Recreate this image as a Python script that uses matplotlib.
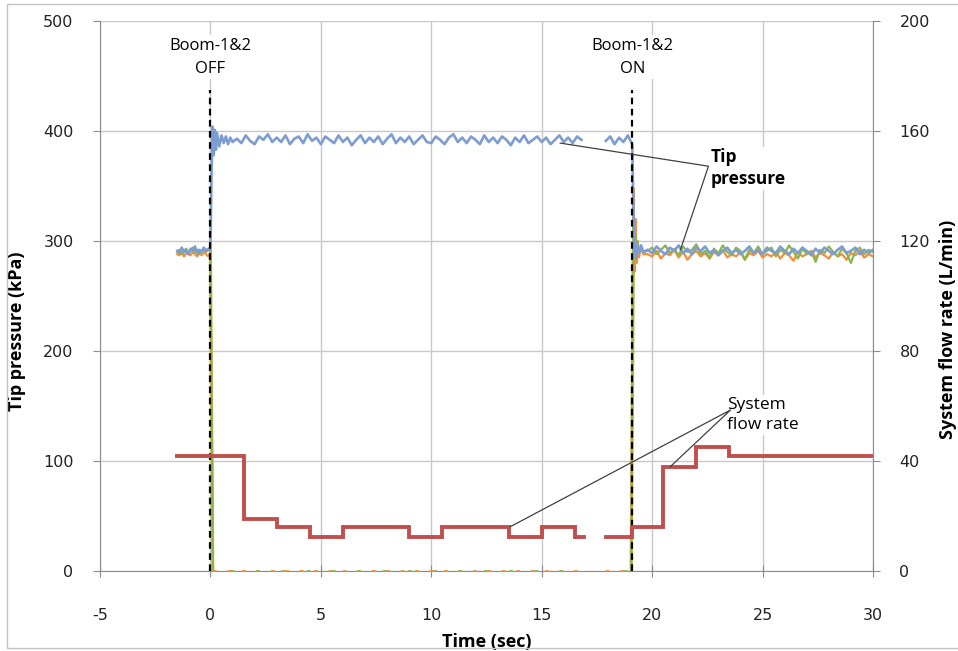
import numpy as np
import matplotlib
matplotlib.use('Agg')
import matplotlib.pyplot as plt

# ---- data ----
# before the booms switch off (t = -1.5 .. 0 s, step 0.1)
t_pre = np.round(np.arange(-15, 1) * 0.1, 2)
blue_pre = [291, 289, 294, 290, 292, 288, 293, 291, 295, 289, 292, 290, 294, 291, 293, 292]
orange_pre = [288, 287, 290, 286, 289, 288, 287, 290, 288, 286, 289, 287, 290, 288, 286, 289]
green_pre = [290, 292, 288, 291, 293, 289, 291, 294, 290, 292, 288, 291, 293, 290, 292, 291]

# blue tip pressure while booms are off
t_blue_jump = [0.0, 0.05, 0.1, 0.15, 0.2, 0.25, 0.3, 0.4, 0.5, 0.6, 0.7, 0.8, 0.9, 1.0]
blue_jump = [292, 360, 404, 378, 401, 383, 398, 386, 396, 389, 395, 388, 394, 390]
t_blue_hold = np.round(np.arange(6, 85) * 0.2, 2)
blue_hold = [393, 389, 396, 391, 388, 395, 392, 397, 390, 394,
             390, 396, 388, 393, 395, 389, 397, 391, 394, 388,
             395, 392, 389, 396, 390, 394, 387, 392, 396, 389,
             394, 390, 395, 388, 393, 397, 389, 394, 390, 395,
             388, 392, 396, 390, 389, 395, 392, 388, 394, 397,
             390, 394, 389, 395, 392, 388, 396, 390, 394, 389,
             395, 392, 387, 394, 390, 396, 389, 392, 395, 390,
             394, 388, 392, 396, 390, 394, 389, 395, 392]
t_blue_late = [17.9, 18.1, 18.3, 18.5, 18.7, 18.9, 19.0, 19.1, 19.15, 19.2, 19.25, 19.3, 19.4, 19.5, 19.6]
blue_late = [391, 395, 388, 394, 390, 396, 392, 388, 330, 300, 285, 298, 289, 296, 290]

# drop to zero at boom off, zero while off
t_drop = [0.0, 0.12]
orange_drop = [289, 0]
green_drop = [291, 0]
t_zero_a = [0.12, 16.9]
t_zero_b = [17.9, 19.05]
zero_a = [0, 0]
zero_b = [0, 0]

# after the booms switch back on
t_on = [19.05, 19.1, 19.15, 19.2, 19.25, 19.3, 19.35, 19.4, 19.5, 19.6]
orange_on = [0, 200, 348, 272, 320, 280, 300, 285, 295, 288]
green_on = [0, 150, 320, 283, 305, 288, 298, 289, 294, 290]
t_post = np.round(np.arange(99, 151) * 0.2, 2)
blue_post = [292, 289, 295, 291, 288, 294, 291, 296, 289, 293,
             288, 294, 291, 295, 289, 292, 287, 291, 294, 289,
             292, 288, 291, 295, 289, 292, 288, 294, 291, 289,
             295, 291, 288, 293, 289, 294, 291, 287, 293, 289,
             294, 291, 288, 292, 295, 289, 291, 294, 288, 292,
             289, 292]
orange_post = [288, 286, 291, 284, 289, 287, 292, 285, 290, 283,
               288, 291, 286, 289, 284, 290, 287, 292, 285, 288,
               286, 290, 283, 289, 287, 291, 285, 288, 286, 290,
               284, 289, 287, 282, 290, 286, 288, 291, 285, 289,
               287, 284, 290, 286, 288, 283, 289, 287, 291, 285,
               288, 286]
green_post = [291, 294, 288, 292, 296, 289, 293, 287, 295, 290,
              292, 297, 288, 291, 285, 293, 289, 296, 290, 287,
              294, 291, 283, 292, 289, 295, 288, 291, 294, 286,
              292, 289, 296, 290, 284, 293, 288, 291, 281, 292,
              289, 295, 290, 286, 293, 289, 280, 291, 294, 288,
              292, 290]

# yellow trace, only visible on the switching edges
t_yellow_off = [0.0, 0.1]
t_yellow_on = [19.05, 19.15]
yellow_off = [290, 0]
yellow_on = [0, 290]

# system flow rate (L/min), stepwise
flow_t1 = [-1.5, 1.5, 3.0, 4.5, 6.0, 9.0, 10.5, 13.5, 15.0, 16.5, 16.9]
flow_v1 = [42, 19, 16, 12.5, 16, 12.5, 16, 12.5, 16, 12.5, 12.5]
flow_t2 = [17.9, 19.1, 20.5, 22.0, 23.5, 30.0]
flow_v2 = [12.5, 16, 38, 45, 42, 42]

switch_times = [0.0, 19.1]
switch_labels = ['Boom-1&2\nOFF', 'Boom-1&2\nON']

# ---- colours ----
c_blue = '#7d9dd2'
c_orange = '#f38d3c'
c_green = '#8db44e'
c_yellow = '#c9c25a'
c_red = '#c0504d'
c_grid = '#c8c8c8'
c_axis = '#8c8c8c'

plt.rcParams['font.family'] = ['DejaVu Sans']
plt.rcParams['axes.unicode_minus'] = False

fig = plt.figure(figsize=(9.58, 6.51), dpi=100)
ax = fig.add_axes([100 / 958, 1 - 571 / 651, 773 / 958, 550 / 651])
ax2 = ax.twinx()

# pressure traces
ax.plot(t_yellow_off, yellow_off, color=c_yellow, lw=2.4, zorder=2)
ax.plot(t_yellow_on, yellow_on, color=c_yellow, lw=2.4, zorder=2)
ax.plot(t_pre, orange_pre, color=c_orange, lw=1.6, zorder=3)
ax.plot(t_drop, orange_drop, color=c_orange, lw=1.5, zorder=3)
ax.plot(t_pre, green_pre, color=c_green, lw=1.6, zorder=3)
ax.plot(t_drop, green_drop, color=c_green, lw=1.5, zorder=3)
for tz, zz in [(t_zero_a, zero_a), (t_zero_b, zero_b)]:
    ax.plot(tz, zz, color=c_orange, lw=1.3, ls=(0, (2, 6)), clip_on=False, zorder=4)
    ax.plot(tz, zz, color=c_green, lw=1.3, ls=(4, (2, 12)), clip_on=False, zorder=4)
ax.plot(list(t_on) + list(t_post), orange_on + orange_post, color=c_orange, lw=1.6, zorder=3)
ax.plot(list(t_on) + list(t_post), green_on + green_post, color=c_green, lw=1.6, zorder=3)
ax.plot(list(t_pre) + t_blue_jump + list(t_blue_hold), blue_pre + blue_jump + blue_hold,
        color=c_blue, lw=1.9, zorder=3.5)
ax.plot(t_blue_late + list(t_post), blue_late + blue_post, color=c_blue, lw=1.9, zorder=3.5)

# boom switch markers
for ts, lab in zip(switch_times, switch_labels):
    ax.plot([ts, ts], [0, 437], color='black', lw=1.6, ls=(0, (3, 2)), zorder=5)
    ax.text(ts, 467, lab, ha='center', va='center', fontsize=12, family='Open Sans',
            linespacing=1.55, zorder=6,
            bbox=dict(boxstyle='square,pad=0.15', fc='white', ec='none'))

# flow rate on the right axis
ax2.plot(flow_t1, flow_v1, drawstyle='steps-post', color=c_red, lw=2.8, solid_joinstyle='miter')
ax2.plot(flow_t2, flow_v2, drawstyle='steps-post', color=c_red, lw=2.8, solid_joinstyle='miter')

# callouts
ax.text(22.65, 366, 'Tip\npressure', ha='left', va='center', fontsize=12.5, fontweight='bold',
        family='Open Sans', linespacing=1.3, zorder=6,
        bbox=dict(boxstyle='square,pad=0.1', fc='white', ec='none'))
ax.plot([15.84, 22.55, 21.28], [389, 368, 292], color='#404040', lw=0.9, zorder=6)
ax2.text(23.4, 141.8 / 2.5, 'System\nflow rate', ha='left', va='center', fontsize=12.5,
         family='Open Sans', linespacing=1.3, zorder=6,
         bbox=dict(boxstyle='square,pad=0.1', fc='white', ec='none'))
ax2.plot([13.58, 23.55, 20.82], [40.3 / 2.5, 146.4 / 2.5, 94.8 / 2.5], color='#404040', lw=0.9, zorder=6)

# axes
ax.set_xlim(-5, 30)
ax.set_ylim(0, 500)
ax2.set_ylim(0, 200)
ax.set_xticks(np.arange(-5, 31, 5))
ax.set_yticks(np.arange(0, 501, 100))
ax2.set_yticks(np.arange(0, 201, 40))
ax.grid(True, color=c_grid, lw=1.0)
ax.set_axisbelow(True)

for a in (ax, ax2):
    a.spines['top'].set_visible(False)
    for s in ('left', 'right', 'bottom'):
        a.spines[s].set_color(c_axis)
ax.spines['right'].set_visible(False)
ax2.spines['left'].set_visible(False)
ax2.spines['bottom'].set_visible(False)

ax.tick_params(axis='y', direction='out', length=5, color=c_axis, labelsize=11.5, pad=14, labelcolor='#222222')
ax.tick_params(axis='x', direction='inout', length=9, color=c_axis, labelsize=11.5, pad=22, labelcolor='#222222')
ax2.tick_params(axis='y', direction='out', length=5, color=c_axis, labelsize=11.5, pad=14, labelcolor='#222222')

ax.set_xlabel('Time (sec)', fontsize=13, fontweight='bold', family='Open Sans')
ax.xaxis.set_label_coords(0.5, -0.112)
ax.set_ylabel('Tip pressure (kPa)', fontsize=13, fontweight='bold', family='Open Sans')
ax.yaxis.set_label_coords(-0.096, 0.436)
ax2.set_ylabel('System flow rate (L/min)', fontsize=13, fontweight='bold', family='Open Sans')
ax2.yaxis.set_label_coords(1.086, 0.44)

# chart area border
fig.patches.append(plt.Rectangle((7 / 958, 1 - 648 / 651), 1.0, 644 / 651, transform=fig.transFigure,
                                 fill=False, ec='#c4c4c4', lw=1.0))

fig.savefig('out.png', dpi=100)
